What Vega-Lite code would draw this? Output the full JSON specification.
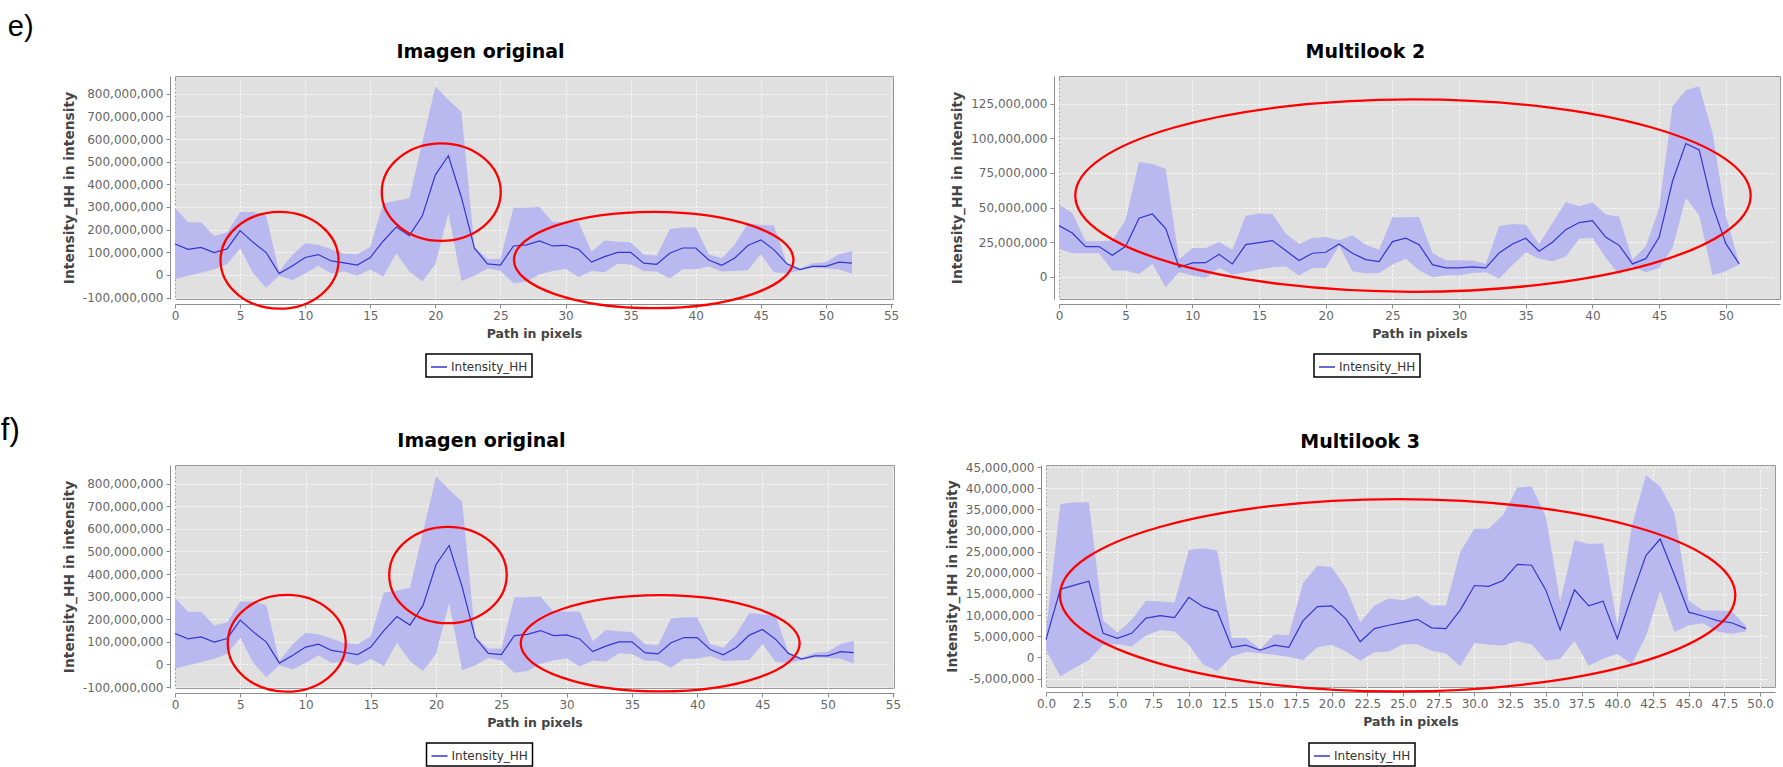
{
"$schema": "https://vega.github.io/schema/vega-lite/v6.json",
"background": "white",
"padding": {"left": 0, "top": 12, "right": 4, "bottom": 0},
"datasets": {
"orig": [{"i":0,"v":137e6,"lo":-18e6,"hi":295e6},{"i":1,"v":113e6,"lo":-3e6,"hi":233e6},{"i":2,"v":122e6,"lo":10e6,"hi":233e6},{"i":3,"v":99e6,"lo":25e6,"hi":172e6},{"i":4,"v":115e6,"lo":47e6,"hi":187e6},{"i":5,"v":196e6,"lo":118e6,"hi":278e6},{"i":6,"v":144e6,"lo":7e6,"hi":278e6},{"i":7,"v":99e6,"lo":-56e6,"hi":262e6},{"i":8,"v":6e6,"lo":-3e6,"hi":15e6},{"i":9,"v":40e6,"lo":-22e6,"hi":88e6},{"i":10,"v":77e6,"lo":7e6,"hi":140e6},{"i":11,"v":90e6,"lo":41e6,"hi":133e6},{"i":12,"v":62e6,"lo":7e6,"hi":115e6},{"i":13,"v":53e6,"lo":15e6,"hi":94e6},{"i":14,"v":44e6,"lo":-3e6,"hi":91e6},{"i":15,"v":77e6,"lo":24e6,"hi":125e6},{"i":16,"v":150e6,"lo":-7e6,"hi":317e6},{"i":17,"v":212e6,"lo":96e6,"hi":327e6},{"i":18,"v":174e6,"lo":15e6,"hi":339e6},{"i":19,"v":261e6,"lo":-29e6,"hi":586e6},{"i":20,"v":442e6,"lo":47e6,"hi":832e6},{"i":21,"v":526e6,"lo":272e6,"hi":773e6},{"i":22,"v":342e6,"lo":-27e6,"hi":719e6},{"i":23,"v":118e6,"lo":-3e6,"hi":125e6},{"i":24,"v":49e6,"lo":29e6,"hi":71e6},{"i":25,"v":44e6,"lo":19e6,"hi":71e6},{"i":26,"v":128e6,"lo":-37e6,"hi":297e6},{"i":27,"v":133e6,"lo":-29e6,"hi":297e6},{"i":28,"v":150e6,"lo":3e6,"hi":300e6},{"i":29,"v":128e6,"lo":18e6,"hi":234e6},{"i":30,"v":131e6,"lo":27e6,"hi":234e6},{"i":31,"v":113e6,"lo":-9e6,"hi":234e6},{"i":32,"v":57e6,"lo":18e6,"hi":103e6},{"i":33,"v":81e6,"lo":12e6,"hi":152e6},{"i":34,"v":100e6,"lo":50e6,"hi":147e6},{"i":35,"v":100e6,"lo":46e6,"hi":144e6},{"i":36,"v":52e6,"lo":18e6,"hi":90e6},{"i":37,"v":47e6,"lo":15e6,"hi":85e6},{"i":38,"v":96e6,"lo":-15e6,"hi":203e6},{"i":39,"v":119e6,"lo":25e6,"hi":209e6},{"i":40,"v":119e6,"lo":25e6,"hi":209e6},{"i":41,"v":66e6,"lo":37e6,"hi":91e6},{"i":42,"v":43e6,"lo":15e6,"hi":74e6},{"i":43,"v":75e6,"lo":18e6,"hi":135e6},{"i":44,"v":130e6,"lo":21e6,"hi":228e6},{"i":45,"v":155e6,"lo":91e6,"hi":221e6},{"i":46,"v":112e6,"lo":12e6,"hi":218e6},{"i":47,"v":49e6,"lo":6e6,"hi":52e6},{"i":48,"v":24e6,"lo":21e6,"hi":29e6},{"i":49,"v":38e6,"lo":32e6,"hi":52e6},{"i":50,"v":38e6,"lo":29e6,"hi":56e6},{"i":51,"v":57e6,"lo":25e6,"hi":91e6},{"i":52,"v":52e6,"lo":4e6,"hi":105e6}],
"ml2": [{"i":0,"v":37.0e6,"lo":20.4e6,"hi":52.2e6},{"i":1,"v":31.7e6,"lo":17.1e6,"hi":46.2e6},{"i":2,"v":21.9e6,"lo":17.1e6,"hi":25.7e6},{"i":3,"v":21.9e6,"lo":17.1e6,"hi":25.7e6},{"i":4,"v":15.6e6,"lo":4.6e6,"hi":26.2e6},{"i":5,"v":22.1e6,"lo":4.6e6,"hi":41.3e6},{"i":6,"v":42.3e6,"lo":2.2e6,"hi":82.9e6},{"i":7,"v":45.4e6,"lo":9.4e6,"hi":81.5e6},{"i":8,"v":34.9e6,"lo":-7.5e6,"hi":78.1e6},{"i":9,"v":7.0e6,"lo":3.4e6,"hi":12.5e6},{"i":10,"v":10.1e6,"lo":1.0e6,"hi":20.9e6},{"i":11,"v":10.3e6,"lo":-0.7e6,"hi":20.9e6},{"i":12,"v":16.3e6,"lo":6.5e6,"hi":25.2e6},{"i":13,"v":9.4e6,"lo":1.7e6,"hi":19.7e6},{"i":14,"v":23.3e6,"lo":3.4e6,"hi":44.2e6},{"i":15,"v":24.8e6,"lo":5.3e6,"hi":45.7e6},{"i":16,"v":26.2e6,"lo":7.0e6,"hi":45.4e6},{"i":17,"v":19.0e6,"lo":7.5e6,"hi":31.3e6},{"i":18,"v":11.8e6,"lo":1.0e6,"hi":23.8e6},{"i":19,"v":17.1e6,"lo":6.5e6,"hi":28.1e6},{"i":20,"v":17.8e6,"lo":6.5e6,"hi":28.8e6},{"i":21,"v":23.8e6,"lo":22.5e6,"hi":26.4e6},{"i":22,"v":17.1e6,"lo":4.1e6,"hi":30.0e6},{"i":23,"v":12.5e6,"lo":2.4e6,"hi":23.3e6},{"i":24,"v":11.1e6,"lo":2.9e6,"hi":19.7e6},{"i":25,"v":25.5e6,"lo":8.9e6,"hi":43.0e6},{"i":26,"v":27.9e6,"lo":13.2e6,"hi":43.0e6},{"i":27,"v":23.3e6,"lo":4.8e6,"hi":43.3e6},{"i":28,"v":8.9e6,"lo":-0.2e6,"hi":17.3e6},{"i":29,"v":6.5e6,"lo":1.2e6,"hi":12.0e6},{"i":30,"v":6.5e6,"lo":1.2e6,"hi":12.0e6},{"i":31,"v":7.2e6,"lo":2.9e6,"hi":11.8e6},{"i":32,"v":6.5e6,"lo":3.4e6,"hi":9.6e6},{"i":33,"v":17.3e6,"lo":-1.2e6,"hi":36.5e6},{"i":34,"v":23.8e6,"lo":8.4e6,"hi":38.2e6},{"i":35,"v":27.9e6,"lo":17.8e6,"hi":37.7e6},{"i":36,"v":18.5e6,"lo":13.2e6,"hi":23.8e6},{"i":37,"v":25.0e6,"lo":11.3e6,"hi":38.9e6},{"i":38,"v":34.1e6,"lo":14.7e6,"hi":54.1e6},{"i":39,"v":39.2e6,"lo":27.6e6,"hi":51.0e6},{"i":40,"v":40.6e6,"lo":28.1e6,"hi":53.8e6},{"i":41,"v":28.6e6,"lo":13.7e6,"hi":45.0e6},{"i":42,"v":22.8e6,"lo":1.7e6,"hi":43.5e6},{"i":43,"v":9.4e6,"lo":7.7e6,"hi":12.5e6},{"i":44,"v":13.2e6,"lo":3.4e6,"hi":22.1e6},{"i":45,"v":28.6e6,"lo":6.5e6,"hi":49.8e6},{"i":46,"v":69.0e6,"lo":20.9e6,"hi":123.1e6},{"i":47,"v":96.2e6,"lo":57.0e6,"hi":134.6e6},{"i":48,"v":91.6e6,"lo":44.5e6,"hi":137.5e6},{"i":49,"v":51.4e6,"lo":1.2e6,"hi":103.9e6},{"i":50,"v":24.0e6,"lo":4.1e6,"hi":44.0e6},{"i":51,"v":9.4e6,"lo":9.0e6,"hi":10.0e6}],
"ml3": [{"i":0,"v":4.2e6,"lo":1.8e6,"hi":6.1e6},{"i":1,"v":16.1e6,"lo":-4.5e6,"hi":36.3e6},{"i":2,"v":17.1e6,"lo":-2.5e6,"hi":36.7e6},{"i":3,"v":18.0e6,"lo":-0.6e6,"hi":36.7e6},{"i":4,"v":5.7e6,"lo":3.0e6,"hi":8.7e6},{"i":5,"v":4.5e6,"lo":3.1e6,"hi":5.9e6},{"i":6,"v":5.7e6,"lo":2.6e6,"hi":8.9e6},{"i":7,"v":9.3e6,"lo":5.2e6,"hi":13.4e6},{"i":8,"v":9.9e6,"lo":6.5e6,"hi":13.2e6},{"i":9,"v":9.4e6,"lo":6.1e6,"hi":13.0e6},{"i":10,"v":14.2e6,"lo":3.0e6,"hi":25.4e6},{"i":11,"v":12.0e6,"lo":-1.7e6,"hi":25.8e6},{"i":12,"v":10.9e6,"lo":-3.3e6,"hi":25.3e6},{"i":13,"v":2.4e6,"lo":0.2e6,"hi":4.6e6},{"i":14,"v":2.9e6,"lo":1.3e6,"hi":4.6e6},{"i":15,"v":1.7e6,"lo":1.0e6,"hi":2.0e6},{"i":16,"v":2.9e6,"lo":0.6e6,"hi":5.4e6},{"i":17,"v":2.4e6,"lo":0.1e6,"hi":5.3e6},{"i":18,"v":8.7e6,"lo":-0.6e6,"hi":17.6e6},{"i":19,"v":12.0e6,"lo":2.4e6,"hi":21.7e6},{"i":20,"v":12.2e6,"lo":3.0e6,"hi":21.4e6},{"i":21,"v":9.1e6,"lo":1.4e6,"hi":16.4e6},{"i":22,"v":3.7e6,"lo":-0.8e6,"hi":8.3e6},{"i":23,"v":6.8e6,"lo":1.2e6,"hi":12.3e6},{"i":24,"v":7.6e6,"lo":1.4e6,"hi":13.9e6},{"i":25,"v":8.3e6,"lo":3.1e6,"hi":13.5e6},{"i":26,"v":9.0e6,"lo":3.1e6,"hi":14.6e6},{"i":27,"v":7.0e6,"lo":1.6e6,"hi":12.3e6},{"i":28,"v":6.8e6,"lo":0.9e6,"hi":12.3e6},{"i":29,"v":11.2e6,"lo":-2.1e6,"hi":24.9e6},{"i":30,"v":17.0e6,"lo":3.4e6,"hi":30.4e6},{"i":31,"v":16.8e6,"lo":3.0e6,"hi":30.4e6},{"i":32,"v":18.2e6,"lo":2.8e6,"hi":33.7e6},{"i":33,"v":22.0e6,"lo":3.8e6,"hi":40.2e6},{"i":34,"v":21.8e6,"lo":3.1e6,"hi":40.4e6},{"i":35,"v":15.9e6,"lo":-0.8e6,"hi":33.3e6},{"i":36,"v":6.5e6,"lo":-0.3e6,"hi":13.2e6},{"i":37,"v":16.0e6,"lo":3.9e6,"hi":27.7e6},{"i":38,"v":12.2e6,"lo":-2.0e6,"hi":26.8e6},{"i":39,"v":13.3e6,"lo":-0.3e6,"hi":27.0e6},{"i":40,"v":4.4e6,"lo":0.8e6,"hi":7.7e6},{"i":41,"v":14.5e6,"lo":-1.6e6,"hi":30.9e6},{"i":42,"v":24.1e6,"lo":5.0e6,"hi":43.1e6},{"i":43,"v":28.0e6,"lo":15.7e6,"hi":40.4e6},{"i":44,"v":19.5e6,"lo":6.0e6,"hi":34.1e6},{"i":45,"v":10.7e6,"lo":7.6e6,"hi":13.4e6},{"i":46,"v":9.8e6,"lo":8.1e6,"hi":11.1e6},{"i":47,"v":8.7e6,"lo":6.1e6,"hi":11.1e6},{"i":48,"v":8.2e6,"lo":5.6e6,"hi":10.9e6},{"i":49,"v":6.8e6,"lo":6.1e6,"hi":7.5e6}]
},
"spacing": 35,
"resolve": {"scale": {"color": "independent"}},
"vconcat": [
{
"title": {"text": "e)", "anchor": "start", "font": "Liberation Sans", "fontSize": 29, "fontWeight": "normal", "color": "#000", "baseline": "alphabetic", "offset": -22, "dx": -54},
"spacing": 50,
"resolve": {"scale": {"color": "independent"}},
"hconcat": [
{
"width": 718, "height": 223,
"title": {"text": "Imagen original", "baseline": "alphabetic", "offset": -1, "frame": "bounds", "anchor": "middle"},
"data": {"name": "orig"},
"encoding": {
"x": {"field": "i", "type": "quantitative", "scale": {"domain": [0, 55.15], "nice": false, "zero": false}, "axis": {"title": "Path in pixels", "values": [0,5,10,15,20,25,30,35,40,45,50,55]}},
"y": {"field": "v", "type": "quantitative", "scale": {"domain": [-106e6, 878e6], "nice": false, "zero": false}, "axis": {"title": "Intensity_HH in intensity", "values": [-1e8,0,1e8,2e8,3e8,4e8,5e8,6e8,7e8,8e8], "format": ",d", "labelExpr": "replace(datum.label, '\u2212', '-')"}}
},
"layer": [
{"mark": {"type": "area", "color": "#b9b9ef", "opacity": 1}, "encoding": {"y": {"field": "lo", "type": "quantitative", "scale": {"domain": [-106e6, 878e6], "nice": false, "zero": false}, "axis": {"title": "Intensity_HH in intensity", "values": [-1e8,0,1e8,2e8,3e8,4e8,5e8,6e8,7e8,8e8], "format": ",d", "labelExpr": "replace(datum.label, '\u2212', '-')"}}, "y2": {"field": "hi"}}},
{"mark": {"type": "line", "strokeWidth": 1.2}, "encoding": {"color": {"datum": "Intensity_HH", "type": "nominal", "scale": {"range": ["#3535cf"]}, "legend": {"title": null, "orient": "none", "legendX": 251, "legendY": 278}}}},
{"data": {"values": [{"i": 8.03, "v": 64.7e6}]}, "mark": {"type": "point", "shape": "M-1,0C-1,-0.4529 -0.5523,-0.82 0,-0.82C0.5523,-0.82 1,-0.4529 1,0C1,0.4529 0.5523,0.82 0,0.82C-0.5523,0.82 -1,0.4529 -1,0Z", "size": 13924, "filled": false, "stroke": "#ff0000", "strokeWidth": 2.3, "opacity": 1}},
{"data": {"values": [{"i": 20.45, "v": 365.7e6}]}, "mark": {"type": "point", "shape": "M-1,0C-1,-0.4529 -0.5523,-0.82 0,-0.82C0.5523,-0.82 1,-0.4529 1,0C1,0.4529 0.5523,0.82 0,0.82C-0.5523,0.82 -1,0.4529 -1,0Z", "size": 14161, "filled": false, "stroke": "#ff0000", "strokeWidth": 2.3, "opacity": 1}},
{"data": {"values": [{"i": 36.77, "v": 66.1e6}]}, "mark": {"type": "point", "shape": "M-1,0C-1,-0.1905 -0.5523,-0.345 0,-0.345C0.5523,-0.345 1,-0.1905 1,0C1,0.1905 0.5523,0.345 0,0.345C-0.5523,0.345 -1,0.1905 -1,0Z", "size": 78120, "filled": false, "stroke": "#ff0000", "strokeWidth": 2.3, "opacity": 1}}
]
},
{
"width": 721, "height": 223,
"title": {"text": "Multilook 2", "baseline": "alphabetic", "offset": -1, "frame": "bounds", "anchor": "middle"},
"data": {"name": "ml2"},
"encoding": {
"x": {"field": "i", "type": "quantitative", "scale": {"domain": [0, 54.06], "nice": false, "zero": false}, "axis": {"title": "Path in pixels", "values": [0,5,10,15,20,25,30,35,40,45,50]}},
"y": {"field": "v", "type": "quantitative", "scale": {"domain": [-15.9e6, 144.9e6], "nice": false, "zero": false}, "axis": {"title": "Intensity_HH in intensity", "values": [0,25e6,50e6,75e6,100e6,125e6], "format": ",d", "labelExpr": "replace(datum.label, '\u2212', '-')"}}
},
"layer": [
{"mark": {"type": "area", "color": "#b9b9ef", "opacity": 1}, "encoding": {"y": {"field": "lo", "type": "quantitative", "scale": {"domain": [-15.9e6, 144.9e6], "nice": false, "zero": false}, "axis": {"title": "Intensity_HH in intensity", "values": [0,25e6,50e6,75e6,100e6,125e6], "format": ",d", "labelExpr": "replace(datum.label, '\u2212', '-')"}}, "y2": {"field": "hi"}}},
{"mark": {"type": "line", "strokeWidth": 1.2}, "encoding": {"color": {"datum": "Intensity_HH", "type": "nominal", "scale": {"range": ["#3535cf"]}, "legend": {"title": null, "orient": "none", "legendX": 255, "legendY": 278}}}},
{"data": {"values": [{"i": 26.54, "v": 58.7e6}]}, "mark": {"type": "point", "shape": "M-1,0C-1,-0.1574 -0.5523,-0.285 0,-0.285C0.5523,-0.285 1,-0.1574 1,0C1,0.1574 0.5523,0.285 0,0.285C-0.5523,0.285 -1,0.1574 -1,0Z", "size": 456165, "filled": false, "stroke": "#ff0000", "strokeWidth": 2.3, "opacity": 1}}
]
}
]
},
{
"title": {"text": "f)", "anchor": "start", "font": "Liberation Sans", "fontSize": 31, "fontWeight": "normal", "color": "#000", "baseline": "alphabetic", "offset": -39, "dx": -61},
"spacing": 42,
"resolve": {"scale": {"color": "independent"}},
"hconcat": [
{
"width": 719, "height": 223,
"title": {"text": "Imagen original", "baseline": "alphabetic", "offset": -1, "frame": "bounds", "anchor": "middle"},
"data": {"name": "orig"},
"encoding": {
"x": {"field": "i", "type": "quantitative", "scale": {"domain": [0, 55.08], "nice": false, "zero": false}, "axis": {"title": "Path in pixels", "values": [0,5,10,15,20,25,30,35,40,45,50,55]}},
"y": {"field": "v", "type": "quantitative", "scale": {"domain": [-104e6, 882e6], "nice": false, "zero": false}, "axis": {"title": "Intensity_HH in intensity", "values": [-1e8,0,1e8,2e8,3e8,4e8,5e8,6e8,7e8,8e8], "format": ",d", "labelExpr": "replace(datum.label, '\u2212', '-')"}}
},
"layer": [
{"mark": {"type": "area", "color": "#b9b9ef", "opacity": 1}, "encoding": {"y": {"field": "lo", "type": "quantitative", "scale": {"domain": [-104e6, 882e6], "nice": false, "zero": false}, "axis": {"title": "Intensity_HH in intensity", "values": [-1e8,0,1e8,2e8,3e8,4e8,5e8,6e8,7e8,8e8], "format": ",d", "labelExpr": "replace(datum.label, '\u2212', '-')"}}, "y2": {"field": "hi"}}},
{"mark": {"type": "line", "strokeWidth": 1.2}, "encoding": {"color": {"datum": "Intensity_HH", "type": "nominal", "scale": {"range": ["#3535cf"]}, "legend": {"title": null, "orient": "none", "legendX": 251.5, "legendY": 278}}}},
{"data": {"values": [{"i": 8.56, "v": 93.6e6}]}, "mark": {"type": "point", "shape": "M-1,0C-1,-0.4529 -0.5523,-0.82 0,-0.82C0.5523,-0.82 1,-0.4529 1,0C1,0.4529 0.5523,0.82 0,0.82C-0.5523,0.82 -1,0.4529 -1,0Z", "size": 13924, "filled": false, "stroke": "#ff0000", "strokeWidth": 2.3, "opacity": 1}},
{"data": {"values": [{"i": 20.91, "v": 395.6e6}]}, "mark": {"type": "point", "shape": "M-1,0C-1,-0.4529 -0.5523,-0.82 0,-0.82C0.5523,-0.82 1,-0.4529 1,0C1,0.4529 0.5523,0.82 0,0.82C-0.5523,0.82 -1,0.4529 -1,0Z", "size": 13806, "filled": false, "stroke": "#ff0000", "strokeWidth": 2.3, "opacity": 1}},
{"data": {"values": [{"i": 37.17, "v": 93.6e6}]}, "mark": {"type": "point", "shape": "M-1,0C-1,-0.1905 -0.5523,-0.345 0,-0.345C0.5523,-0.345 1,-0.1905 1,0C1,0.1905 0.5523,0.345 0,0.345C-0.5523,0.345 -1,0.1905 -1,0Z", "size": 77841, "filled": false, "stroke": "#ff0000", "strokeWidth": 2.3, "opacity": 1}}
]
},
{
"width": 729, "height": 222,
"title": {"text": "Multilook 3", "baseline": "alphabetic", "offset": -5.5, "frame": "bounds", "anchor": "middle"},
"data": {"name": "ml3"},
"encoding": {
"x": {"field": "i", "type": "quantitative", "scale": {"domain": [0, 51.04], "nice": false, "zero": false}, "axis": {"title": "Path in pixels", "values": [0,2.5,5,7.5,10,12.5,15,17.5,20,22.5,25,27.5,30,32.5,35,37.5,40,42.5,45,47.5,50], "format": ".1f"}},
"y": {"field": "v", "type": "quantitative", "scale": {"domain": [-7.0e6, 45.5e6], "nice": false, "zero": false}, "axis": {"title": "Intensity_HH in intensity", "values": [-5e6,0,5e6,10e6,15e6,20e6,25e6,30e6,35e6,40e6,45e6], "format": ",d", "labelExpr": "replace(datum.label, '\u2212', '-')"}}
},
"layer": [
{"mark": {"type": "area", "color": "#b9b9ef", "opacity": 1}, "encoding": {"y": {"field": "lo", "type": "quantitative", "scale": {"domain": [-7.0e6, 45.5e6], "nice": false, "zero": false}, "axis": {"title": "Intensity_HH in intensity", "values": [-5e6,0,5e6,10e6,15e6,20e6,25e6,30e6,35e6,40e6,45e6], "format": ",d", "labelExpr": "replace(datum.label, '\u2212', '-')"}}, "y2": {"field": "hi"}}},
{"mark": {"type": "line", "strokeWidth": 1.2}, "encoding": {"color": {"datum": "Intensity_HH", "type": "nominal", "scale": {"range": ["#3535cf"]}, "legend": {"title": null, "orient": "none", "legendX": 263, "legendY": 278}}}},
{"data": {"values": [{"i": 24.62, "v": 14.69e6}]}, "mark": {"type": "point", "shape": "M-1,0C-1,-0.1574 -0.5523,-0.285 0,-0.285C0.5523,-0.285 1,-0.1574 1,0C1,0.1574 0.5523,0.285 0,0.285C-0.5523,0.285 -1,0.1574 -1,0Z", "size": 456030, "filled": false, "stroke": "#ff0000", "strokeWidth": 2.3, "opacity": 1}}
]
}
]
}
],
"config": {
"view": {"fill": "#e0e0e0", "stroke": "#999999", "strokeWidth": 1},
"title": {"font": "DejaVu Sans", "fontSize": 19, "fontWeight": "bold", "color": "#000000"},
"axis": {"labelFont": "DejaVu Sans", "labelFontSize": 12, "labelColor": "#666666", "titleFont": "DejaVu Sans", "titleFontSize": 13.8, "titleFontWeight": "bold", "titleColor": "#444444", "domainColor": "#8c8c8c", "tickColor": "#8c8c8c", "tickSize": 4, "offset": 5, "labelPadding": 3, "titlePadding": 6, "gridColor": "#ffffff", "gridDash": [2, 2], "gridWidth": 1, "gridOpacity": 0.9, "labelFlush": false, "labelOverlap": false},
"axisX": {"titleFontSize": 12.5, "labelPadding": 2},
"legend": {"strokeColor": "#000000", "strokeWidth": 1.5, "fillColor": "#ffffff", "padding": 4, "labelFont": "DejaVu Sans", "labelFontSize": 12, "labelColor": "#333333", "symbolType": "stroke", "symbolSize": 256, "symbolStrokeWidth": 1.5, "labelOffset": 3}
}
}
